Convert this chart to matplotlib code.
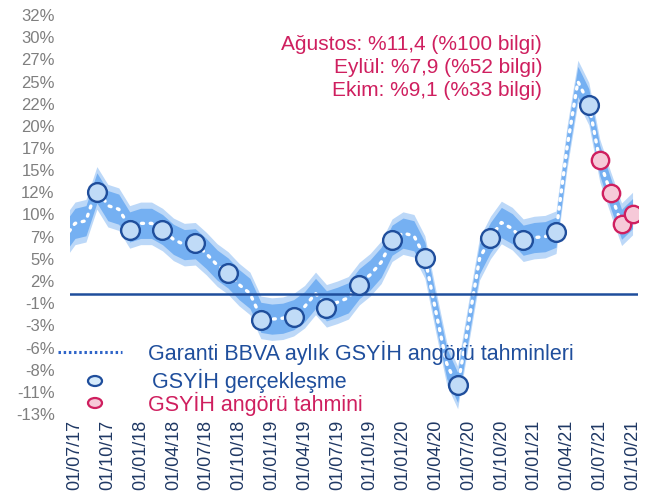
import matplotlib
matplotlib.use("Agg")
import matplotlib.pyplot as plt
from matplotlib.patches import Ellipse
from matplotlib.lines import Line2D
import numpy as np

plt.rcParams['font.family'] = ['Liberation Sans', 'DejaVu Sans']

# ay indeksi: 0 = Temmuz 2017, 51 = Ekim 2021
months = list(range(-1, 52))
nowcast = [6.3, 8.0, 8.3, 12.0, 10.0, 9.6, 7.6, 8.0, 8.0, 7.3, 6.2, 5.6, 5.7,
           4.6, 3.3, 2.4, 1.1, 0.1, -2.6, -2.8, -2.7, -2.3, -1.4, 0.1, -1.3,
           -0.9, -0.4, 1.2, 2.2, 3.6, 6.1, 6.9, 6.6, 4.2, -1.9, -7.8, -10.5,
           -3.2, 4.0, 6.4, 8.1, 7.4, 6.1, 6.4, 6.5, 7.0, 16.5, 24.0, 21.5,
           15.1, 11.4, 7.9, 9.1]
band_inner = 1.7
band_outer = 2.4

actual_months = [2, 5, 8, 11, 14, 17, 20, 23, 26, 29, 32, 35, 38, 41, 44, 47]
actual_values = [11.5, 7.2, 7.2, 5.8, 2.45, -2.85, -2.56, -1.6, 1.0, 6.1, 4.1,
                 -10.2, 6.3, 6.1, 7.0, 21.4]
forecast_months = [48, 49, 50, 51]
forecast_values = [15.1, 11.4, 7.9, 9.1]

xtick_months = [0, 3, 6, 9, 12, 15, 18, 21, 24, 27, 30, 33, 36, 39, 42, 45, 48, 51]
xtick_labels = ["01/07/17", "01/10/17", "01/01/18", "01/04/18", "01/07/18",
                "01/10/18", "01/01/19", "01/04/19", "01/07/19", "01/10/19",
                "01/01/20", "01/04/20", "01/07/20", "01/10/20", "01/01/21",
                "01/04/21", "01/07/21", "01/10/21"]
ytick_values = [-13.5, -11, -8.5, -6, -3.5, -1, 1.5, 4, 6.5, 9, 11.5, 14, 16.5,
                19, 21.5, 24, 26.5, 29, 31.5]
ytick_labels = ["-13%", "-11%", "-8%", "-6%", "-3%", "-1%", "2%", "5%", "7%",
                "10%", "12%", "15%", "17%", "20%", "22%", "25%", "27%", "30%", "32%"]

notes = ["Ağustos: %11,4 (%100 bilgi)", "Eylül: %7,9 (%52 bilgi)",
         "Ekim: %9,1 (%33 bilgi)"]
legend_labels = ["Garanti BBVA aylık GSYİH angörü tahminleri",
                 "GSYİH gerçekleşme", "GSYİH angörü tahmini"]

navy = "#1f4e9c"
pink = "#cf1f5f"

W, H = 663, 499
fig = plt.figure(figsize=(W / 100, H / 100), dpi=100)
ax = fig.add_axes([70 / W, 1 - 414 / H, 568 / W, 399 / H])

x = np.array(months)
y = np.array(nowcast)
ax.fill_between(x, y - band_outer, y + band_outer, color="#bcd8f8", lw=0, zorder=1)
ax.fill_between(x, y - band_inner, y + band_inner, color="#75b0f2", lw=0, zorder=2)
ax.plot(x, y, color="white", lw=2.4, ls=(0, (0.6, 2.0)), dash_capstyle="round", zorder=3)

ax.axhline(0, color=navy, lw=1.8, zorder=4)

ax.plot(actual_months, actual_values, ls="none", marker="o", ms=13.5,
        mfc="#c0dbf7", mec=navy, mew=1.7, zorder=5)
ax.plot(forecast_months, forecast_values, ls="none", marker="o", ms=12.5,
        mfc="#f6c9d8", mec=pink, mew=1.7, zorder=6)

ax.set_xlim(-0.46, 51.5)
ax.set_ylim(-13.5, 31.5)
ax.set_xticks(xtick_months)
ax.set_xticklabels(xtick_labels, rotation=90, fontsize=13, color="#1f3864")
ax.set_yticks(ytick_values)
ax.set_yticklabels(ytick_labels, fontsize=12, color="#7f7f7f")
ax.tick_params(axis="y", length=0, pad=11)
ax.tick_params(axis="x", length=0, pad=4)
for s in ax.spines.values():
    s.set_visible(False)

# sağ üstteki notlar
for i, t in enumerate(notes):
    fig.text(542 / W, 1 - (44 + 23.5 * i) / H, t, ha="right", va="center",
             fontsize=15, color=pink)

# el yapımı gösterge
fig.add_artist(Line2D([58 / W, 122 / W], [1 - 352 / H, 1 - 352 / H],
                      transform=fig.transFigure, color="#2e64c8", lw=2.2,
                      ls=(0, (0.8, 0.9))))
fig.text(148 / W, 1 - 353 / H, legend_labels[0], ha="left", va="center",
         fontsize=15.5, color=navy)
fig.add_artist(Ellipse((95 / W, 1 - 381 / H), 14 / W, 10 / H, transform=fig.transFigure,
                       fc="#d6ebfb", ec=navy, lw=1.6))
fig.text(152 / W, 1 - 381 / H, legend_labels[1], ha="left", va="center",
         fontsize=15.5, color=navy)
fig.add_artist(Ellipse((95 / W, 1 - 403 / H), 14 / W, 10 / H, transform=fig.transFigure,
                       fc="#f6c9d8", ec=pink, lw=1.6))
fig.text(148 / W, 1 - 404 / H, legend_labels[2], ha="left", va="center",
         fontsize=15.5, color=pink)

fig.savefig("out.png", dpi=100)
